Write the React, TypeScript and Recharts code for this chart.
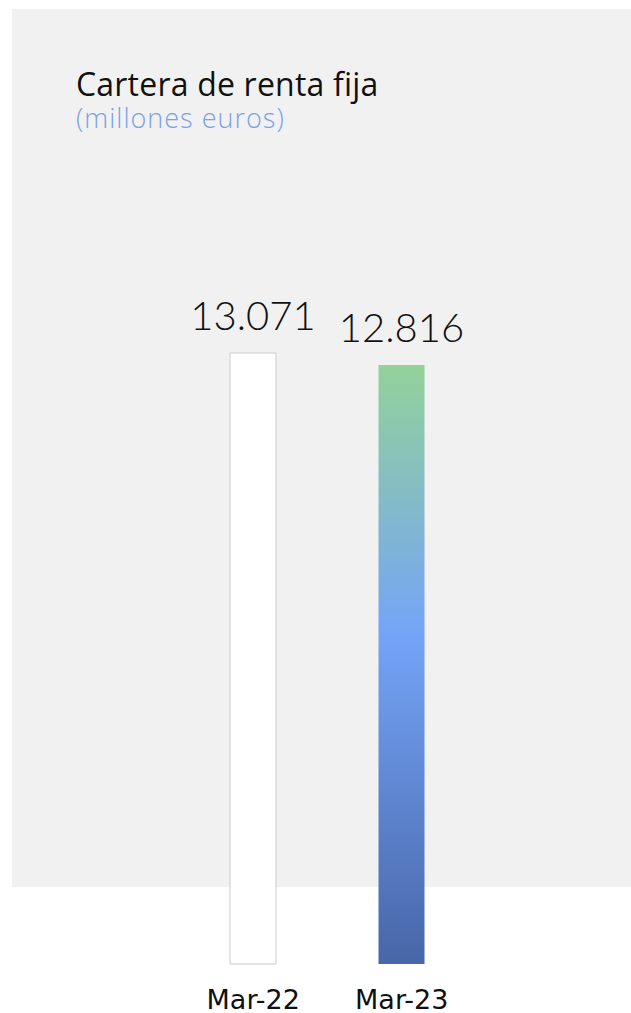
import { BarChart, Bar, XAxis, YAxis, Cell, LabelList } from 'recharts'

const periods = ['Mar-22', 'Mar-23']
const cartera = [13071, 12816]
const title = 'Cartera de renta fija'
const subtitle = '(millones euros)'

const data = periods.map((p, i) => ({ period: p, value: cartera[i] }))

const fmt = (v: number) => String(v).replace(/\B(?=(\d{3})+(?!\d))/g, '.')

export default function App() {
  return (
    <div style={{ position: 'absolute', left: 0, top: 0, width: 631, height: 1013, fontFamily: '"Open Sans", sans-serif' }}>
      <div style={{ position: 'absolute', left: 12, top: 9, width: 619, height: 878, background: '#f1f1f1' }} />
      <div style={{ position: 'absolute', left: 76, top: 68, fontSize: 32, letterSpacing: 0.2, color: '#111', lineHeight: 1, whiteSpace: 'nowrap' }}>{title}</div>
      <div style={{ position: 'absolute', left: 76, top: 104, fontSize: 27, fontWeight: 300, letterSpacing: 1, color: '#7aa2e8', lineHeight: 1, whiteSpace: 'nowrap' }}>{subtitle}</div>
      <BarChart
        width={631}
        height={1013}
        data={data}
        margin={{ top: 353, right: 155, left: 179, bottom: 0 }}
        style={{ position: 'absolute', left: 0, top: 0 }}
      >
        <defs>
          <linearGradient id="barGrad" x1="0" y1="0" x2="0" y2="1">
            <stop offset="0%" stopColor="#93d29a" />
            <stop offset="45%" stopColor="#74a4f7" />
            <stop offset="100%" stopColor="#4866a8" />
          </linearGradient>
        </defs>
        <XAxis
          dataKey="period"
          height={49}
          axisLine={false}
          tickLine={false}
          tickMargin={20}
          tick={{ fontSize: 27, fill: '#111', fontFamily: '"DejaVu Sans", sans-serif' }}
        />
        <YAxis hide domain={[0, 13071]} />
        <Bar dataKey="value" barSize={46} isAnimationActive={false}>
          <Cell fill="#ffffff" stroke="#cccccc" strokeWidth={1} />
          <Cell fill="url(#barGrad)" />
          <LabelList
            dataKey="value"
            position="top"
            offset={23}
            formatter={(v: any) => fmt(Number(v))}
            style={{ fontSize: 40, fontWeight: 300, fill: '#111', fontFamily: 'Lato, sans-serif' }}
          />
        </Bar>
      </BarChart>
    </div>
  )
}
